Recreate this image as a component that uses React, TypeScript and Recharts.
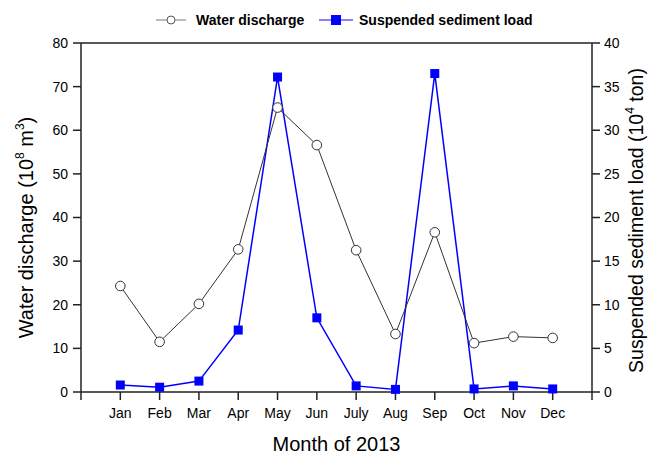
import React from "react";
import {
  Line,
  LineChart,
  ReferenceLine,
  XAxis,
  YAxis,
} from "recharts";

const months = ["Jan", "Feb", "Mar", "Apr", "May", "Jun", "July", "Aug", "Sep", "Oct", "Nov", "Dec"];
const waterDischarge = [24.3, 11.5, 20.2, 32.7, 65.2, 56.6, 32.5, 13.3, 36.6, 11.2, 12.7, 12.4];
const sedimentLoad = [0.8, 0.55, 1.25, 7.1, 36.1, 8.5, 0.7, 0.3, 36.5, 0.35, 0.7, 0.35];
const leftTicks = [0, 10, 20, 30, 40, 50, 60, 70, 80];
const rightTicks = [0, 5, 10, 15, 20, 25, 30, 35, 40];
const xTicks = [0, 1, 2, 3, 4, 5, 6, 7, 8, 9, 10, 11, 12, 13];

const FONT = "'Liberation Sans', Arial, sans-serif";
const AXIS = "#222";
const GREY = "#333";
const BLUE = "#0000ff";

const data = months.map((month, i) => ({
  m: i + 1,
  month,
  water: waterDischarge[i],
  sediment: sedimentLoad[i],
}));

function CircleDot(props: any) {
  const { cx, cy } = props;
  if (cx == null || cy == null) return null;
  return <circle cx={cx} cy={cy} r={4.8} fill="#fff" stroke={GREY} strokeWidth={1} />;
}

function SquareDot(props: any) {
  const { cx, cy } = props;
  if (cx == null || cy == null) return null;
  return <rect x={cx - 4.5} y={cy - 4.5} width={9} height={9} fill={BLUE} />;
}

// legend drawn on top of the chart so it doesn't push the plot down
function LegendBox() {
  const text = { fontFamily: FONT, fontWeight: 700, fontSize: 14, fill: "#000" };
  return (
    <svg width={649} height={34} style={{ position: "absolute", left: 0, top: 0 }}>
      <line x1={156} y1={20} x2={186} y2={20} stroke="#777" strokeWidth={1} />
      <circle cx={171} cy={20} r={4} fill="#fff" stroke="#555" strokeWidth={1} />
      <text x={196} y={25} {...text}>Water discharge</text>
      <line x1={319} y1={20} x2={353} y2={20} stroke="#5a5aff" strokeWidth={1.5} />
      <rect x={331} y={15} width={10} height={10} fill={BLUE} />
      <text x={359} y={25} {...text}>Suspended sediment load</text>
    </svg>
  );
}

function LeftTitle(props: any) {
  const { viewBox } = props;
  const cy = viewBox.y + viewBox.height / 2 + 10;
  const x = 33;
  return (
    <text
      transform={`translate(${x}, ${cy}) rotate(-90)`}
      textAnchor="middle"
      fontFamily={FONT}
      fontSize={20}
      fill="#000"
    >
      Water discharge (10
      <tspan fontSize={12} dy={-9}>8</tspan>
      <tspan dy={9}> m</tspan>
      <tspan fontSize={12} dy={-9}>3</tspan>
      <tspan dy={9}>)</tspan>
    </text>
  );
}

function RightTitle(props: any) {
  const { viewBox } = props;
  const cy = viewBox.y + viewBox.height / 2 + 3;
  const x = 643;
  return (
    <text
      transform={`translate(${x}, ${cy}) rotate(-90)`}
      textAnchor="middle"
      fontFamily={FONT}
      fontSize={19.5}
      fill="#000"
    >
      Suspended sediment load (10
      <tspan fontSize={12} dy={-9}>4</tspan>
      <tspan dy={9}> ton)</tspan>
    </text>
  );
}

export default function App() {
  const tick = { fontFamily: FONT, fontSize: 14, fill: "#000" };
  return (
    <div style={{ position: "fixed", left: 0, top: 0, width: 649, height: 454, background: "#fff" }}>
      <LineChart
        width={649}
        height={454}
        data={data}
        margin={{ top: 43, right: 20, bottom: 0, left: 20 }}
      >
        <XAxis
          xAxisId="x"
          type="number"
          dataKey="m"
          domain={[0, 13]}
          ticks={xTicks}
          interval={0}
          tickFormatter={(v: number) => months[v - 1] ?? ""}
          stroke={AXIS}
          strokeWidth={1.5}
          tickSize={8}
          tickMargin={8}
          tick={tick}
          height={62}
          label={{
            value: "Month of 2013",
            position: "insideBottom",
            offset: 3,
            style: { fontFamily: FONT, fontSize: 20, fill: "#000" },
          }}
        />
        <YAxis
          yAxisId="left"
          orientation="left"
          domain={[0, 80]}
          ticks={leftTicks}
          interval={0}
          stroke={AXIS}
          strokeWidth={1.5}
          tickSize={8}
          tickMargin={5}
          tick={tick}
          width={61}
          label={<LeftTitle />}
        />
        <YAxis
          yAxisId="right"
          orientation="right"
          domain={[0, 40]}
          ticks={rightTicks}
          interval={0}
          stroke={AXIS}
          strokeWidth={1.5}
          tickSize={8}
          tickMargin={4}
          tick={tick}
          width={37}
          label={<RightTitle />}
        />
        <ReferenceLine xAxisId="x" yAxisId="left" y={80} stroke={AXIS} strokeWidth={1.5} />
        <Line
          xAxisId="x"
          yAxisId="right"
          dataKey="sediment"
          stroke={BLUE}
          strokeWidth={1.5}
          dot={<SquareDot />}
          activeDot={false}
          isAnimationActive={false}
        />
        <Line
          xAxisId="x"
          yAxisId="left"
          dataKey="water"
          stroke={GREY}
          strokeWidth={1}
          dot={<CircleDot />}
          activeDot={false}
          isAnimationActive={false}
        />
      </LineChart>
      <LegendBox />
    </div>
  );
}
